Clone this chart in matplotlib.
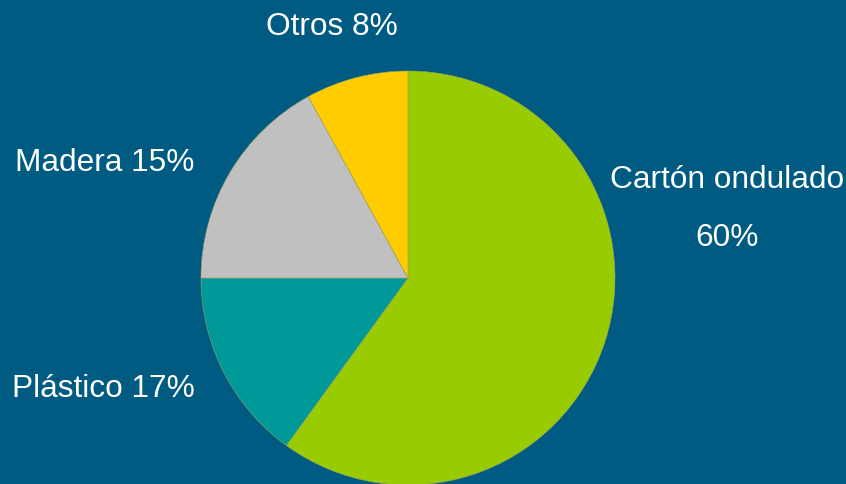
import matplotlib
matplotlib.use("Agg")
import matplotlib.pyplot as plt

categories = ["Cartón ondulado", "Plástico", "Madera", "Otros"]
values = [60, 15, 17, 8]
label_pcts = ["60%", "17%", "15%", "8%"]
colors = ["#99cc00", "#009999", "#c0c0c0", "#ffcc00"]
bg = "#005b82"

plt.rcParams['font.family'] = ['Liberation Sans', 'DejaVu Sans']

fig = plt.figure(figsize=(8.46, 4.84), dpi=100, facecolor=bg)
ax = fig.add_axes([0, 0, 1, 1])
ax.set_facecolor(bg)

ax.pie(values, colors=colors, startangle=90, counterclock=False,
       center=(408, 206), radius=207, frame=True,
       wedgeprops=dict(linewidth=0.4, edgecolor="#a0a060"))
ax.set_xlim(0, 846)
ax.set_ylim(0, 484)
ax.set_aspect('equal')
ax.axis('off')

fs = 22.8
ax.text(727, 275, f"{categories[0]}\n{label_pcts[0]}", ha='center', va='center',
        color='white', fontsize=fs, linespacing=2.22)
ax.text(12, 95, f"{categories[1]} {label_pcts[1]}", ha='left', va='center',
        color='white', fontsize=fs)
ax.text(15, 321, f"{categories[2]} {label_pcts[2]}", ha='left', va='center',
        color='white', fontsize=fs)
ax.text(332, 457, f"{categories[3]} {label_pcts[3]}", ha='center', va='center',
        color='white', fontsize=fs)

fig.savefig("out.png", dpi=100, facecolor=bg)
